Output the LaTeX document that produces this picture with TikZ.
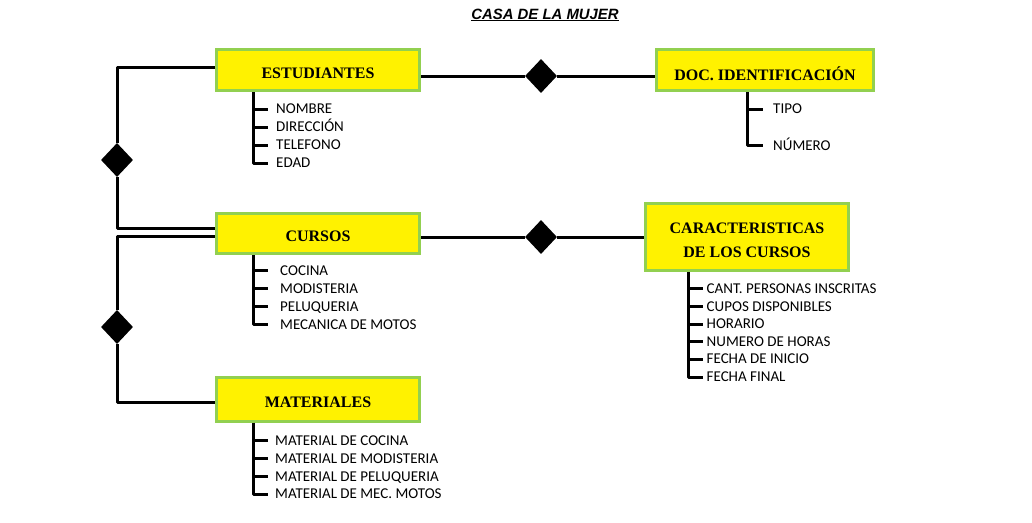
\documentclass[tikz,border=0pt]{standalone}
\usepackage{fontspec}
\setmainfont{Liberation Serif}
\newfontfamily\attrfont{Carlito}
\newfontfamily\titlefont{Liberation Sans}
\usetikzlibrary{shapes.geometric}
\definecolor{boxgreen}{HTML}{92D050}
\newcommand{\lowtext}[1]{\raisebox{-3.3pt}[\height][\depth]{#1}}
\begin{document}
\begin{tikzpicture}[x=1pt,y=-1pt,
  entity/.style={draw=boxgreen, line width=3pt, fill=yellow, inner sep=0pt,
    minimum width=203pt, minimum height=41pt, align=center,
    font=\bfseries\fontsize{16}{24}\selectfont},
  attr/.style={anchor=west, inner sep=0pt, text height=9.6pt, text depth=0pt,
    font=\attrfont\fontsize{15}{16}\selectfont},
  rel/.style={diamond, fill=black, inner sep=0pt, minimum width=32pt, minimum height=34pt},
  link/.style={line width=3pt, line join=round},
  tree/.style={line width=3pt, line join=round}]
\useasboundingbox (0,0) rectangle (1032,522);
\fill[white] (0,0) rectangle (1032,522);

% title
\node[inner sep=0pt, font=\titlefont\bfseries\itshape\fontsize{14.9}{17}\selectfont] (title) at (545,15) {\underline{CASA DE LA MUJER}};

% entities
\node[entity] (est) at (318,70) {\lowtext{ESTUDIANTES}};
\node[entity, minimum width=217pt] (doc) at (765,70) {\lowtext{DOC. IDENTIFICACIÓN}};
\node[entity, minimum height=40.5pt] (cur) at (318,233.3) {\lowtext{CURSOS}};
\node[entity, minimum height=66.5pt] (car) at (747,237) {\raisebox{-4pt}[\height][\depth]{\begin{tabular}{@{}c@{}}CARACTERISTICAS\\DE LOS CURSOS\end{tabular}}};
\node[entity, minimum height=43.5pt] (mat) at (318,399.3) {\lowtext{MATERIALES}};

% relationships
\node[rel] (r1) at (541,76) {};
\node[rel] (r2) at (541,237) {};
\node[rel] (r3) at (117,160) {};
\node[rel] (r4) at (117,327) {};

% connectors
\draw[link] ([yshift=-6pt]est.east) -- (r1.west);
\draw[link] (r1.east) -- (r1.east -| doc.west);
\draw[link] ([yshift=-3.7pt]cur.east) -- (r2.west);
\draw[link] (r2.east) -- (r2.east -| car.west);
\draw[link] ([yshift=3pt]est.west) -| (r3.north);
\draw[link] (r3.south) |- ([yshift=5.3pt]cur.west);
\draw[link] ([yshift=-2.7pt]cur.west) -| (r4.north);
\draw[link] (r4.south) |- ([yshift=-3pt]mat.west);

% attributes of ESTUDIANTES
\coordinate (t1) at (253,0);
\node[attr] (e1) at (276,109) {NOMBRE};
\node[attr] (e2) at (276,127) {DIRECCIÓN};
\node[attr] (e3) at (276,145) {TELEFONO};
\node[attr] (e4) at (276,163) {EDAD};
\draw[tree] (est.south -| t1) |- ([xshift=-8pt]e4.west);
\foreach \n in {e1,e2,e3} \draw[tree] (\n.west -| t1) -- ([xshift=-8pt]\n.west);

% attributes of DOC
\coordinate (t2) at (747,0);
\node[attr] (d1) at (773,109) {TIPO};
\node[attr] (d2) at (773,145.5) {NÚMERO};
\draw[tree] (doc.south -| t2) |- ([xshift=-10pt]d2.west);
\draw[tree] (d1.west -| t2) -- ([xshift=-10pt]d1.west);

% attributes of CURSOS
\node[attr] (c1) at (280,270.5) {COCINA};
\node[attr] (c2) at (280,288.5) {MODISTERIA};
\node[attr] (c3) at (280,306.5) {PELUQUERIA};
\node[attr] (c4) at (280,324.5) {MECANICA DE MOTOS};
\draw[tree] (cur.south -| t1) |- ([xshift=-12pt]c4.west);
\foreach \n in {c1,c2,c3} \draw[tree] (\n.west -| t1) -- ([xshift=-12pt]\n.west);

% attributes of CARACTERISTICAS
\coordinate (t3) at (688,0);
\node[attr] (k1) at (706.5,288.5) {CANT. PERSONAS INSCRITAS};
\node[attr] (k2) at (706.5,306.5) {CUPOS DISPONIBLES};
\node[attr] (k3) at (706.5,324) {HORARIO};
\node[attr] (k4) at (706.5,341.5) {NUMERO DE HORAS};
\node[attr] (k5) at (706.5,359) {FECHA DE INICIO};
\node[attr] (k6) at (706.5,377) {FECHA FINAL};
\draw[tree] (car.south -| t3) |- ([xshift=-4pt]k6.west);
\foreach \n in {k1,k2,k3,k4,k5} \draw[tree] (\n.west -| t3) -- ([xshift=-4pt]\n.west);

% attributes of MATERIALES
\node[attr] (m1) at (275,440.5) {MATERIAL DE COCINA};
\node[attr] (m2) at (275,458.5) {MATERIAL DE MODISTERIA};
\node[attr] (m3) at (275,476.5) {MATERIAL DE PELUQUERIA};
\node[attr] (m4) at (275,494) {MATERIAL DE MEC. MOTOS};
\draw[tree] (mat.south -| t1) |- ([xshift=-7pt]m4.west);
\foreach \n in {m1,m2,m3} \draw[tree] (\n.west -| t1) -- ([xshift=-7pt]\n.west);
\end{tikzpicture}
\end{document}
